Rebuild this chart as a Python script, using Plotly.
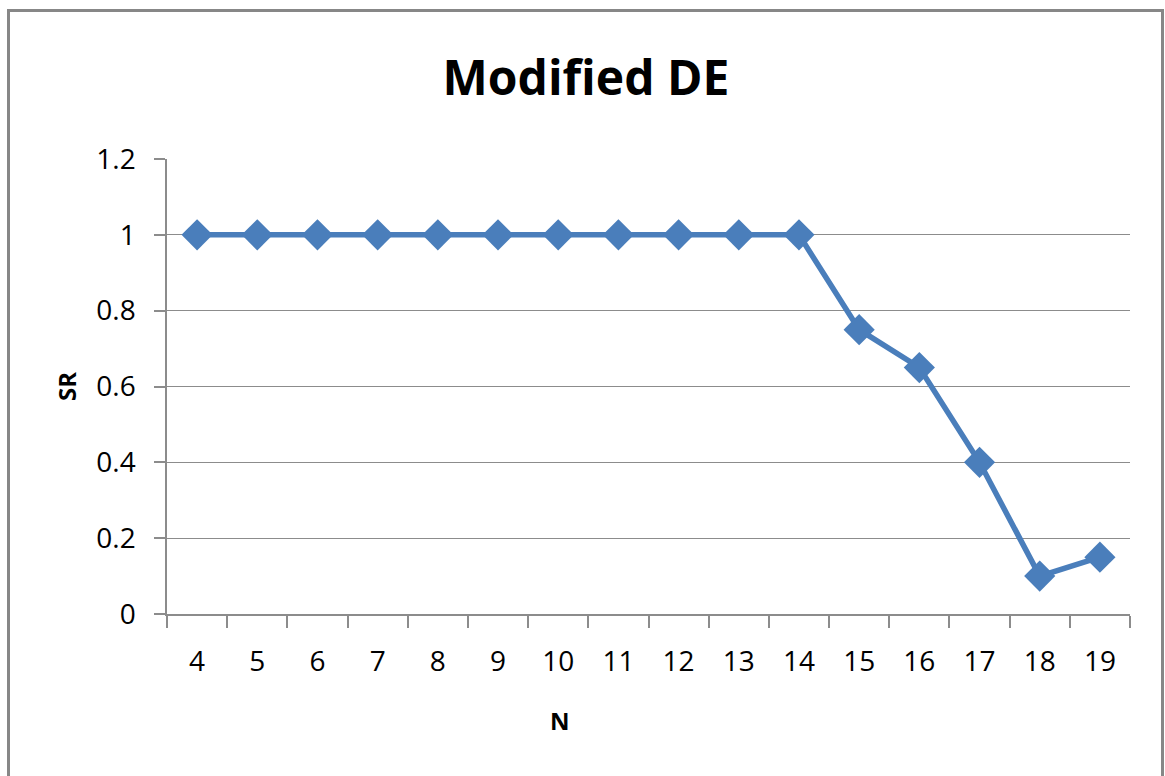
import plotly.graph_objects as go

n_values = ["4", "5", "6", "7", "8", "9", "10", "11", "12", "13", "14", "15", "16", "17", "18", "19"]
sr_values = [1, 1, 1, 1, 1, 1, 1, 1, 1, 1, 1, 0.75, 0.65, 0.4, 0.1, 0.15]
y_ticks = [0, 0.2, 0.4, 0.6, 0.8, 1, 1.2]
y_tick_labels = ["0", "0.2", "0.4", "0.6", "0.8", "1", "1.2"]

W, H = 1165, 776
L, R, T, B = 167, 1130, 159, 614
pw, ph = R - L, B - T

def px(x):
    return (x - L) / pw

def py(y):
    return (B - y) / ph

font_family = "Open Sans, Noto Sans, DejaVu Sans"
blue = "#4A7EBB"
grid = "#8C8C8C"

fig = go.Figure()
fig.add_trace(go.Scatter(
    x=n_values, y=sr_values, mode="lines+markers",
    line=dict(color=blue, width=5.5),
    marker=dict(symbol="diamond", size=24, color=blue),
    showlegend=False,
    cliponaxis=False,
))

fig.update_layout(
    width=W, height=H,
    margin=dict(l=L, r=W - R, t=T, b=H - B),
    paper_bgcolor="white", plot_bgcolor="white",
    font=dict(family=font_family, color="#000000"),
    title=dict(text="<b>Modified DE</b>", x=px(586), xref="paper", xanchor="center",
               y=1 - 78 / H, yanchor="middle", font=dict(size=48, family=font_family)),
    xaxis=dict(
        type="category", range=[-0.5, 15.5],
        tickson="boundaries", ticks="outside", ticklen=12, tickcolor=grid, tickwidth=1.5,
        showline=True, linecolor=grid, linewidth=1.5,
        showgrid=False,
        tickfont=dict(size=28), ticklabelstandoff=22,
    ),
    yaxis=dict(
        range=[0, 1.2], tickvals=y_ticks, ticktext=y_tick_labels,
        ticks="outside", ticklen=11, tickcolor=grid, tickwidth=1.5,
        showline=True, linecolor=grid, linewidth=1.5,
        showgrid=True, gridcolor=grid, gridwidth=1.3,
        tickfont=dict(size=28), ticklabelstandoff=13,
        zeroline=False,
    ),
    annotations=[
        dict(text="<b>N</b>", xref="paper", yref="paper", x=px(560), y=py(720),
             xanchor="center", yanchor="middle", showarrow=False, font=dict(size=24)),
        dict(text="<b>SR</b>", xref="paper", yref="paper", x=px(66), y=py(387),
             xanchor="center", yanchor="middle", showarrow=False, textangle=-90, font=dict(size=24)),
    ],
    shapes=[dict(type="rect", xref="paper", yref="paper",
                 x0=px(8.5), x1=px(1162.5), y0=py(790), y1=py(10.5),
                 line=dict(color="#878787", width=3), fillcolor="rgba(0,0,0,0)", layer="below")],
)

fig.write_html("out.html")
